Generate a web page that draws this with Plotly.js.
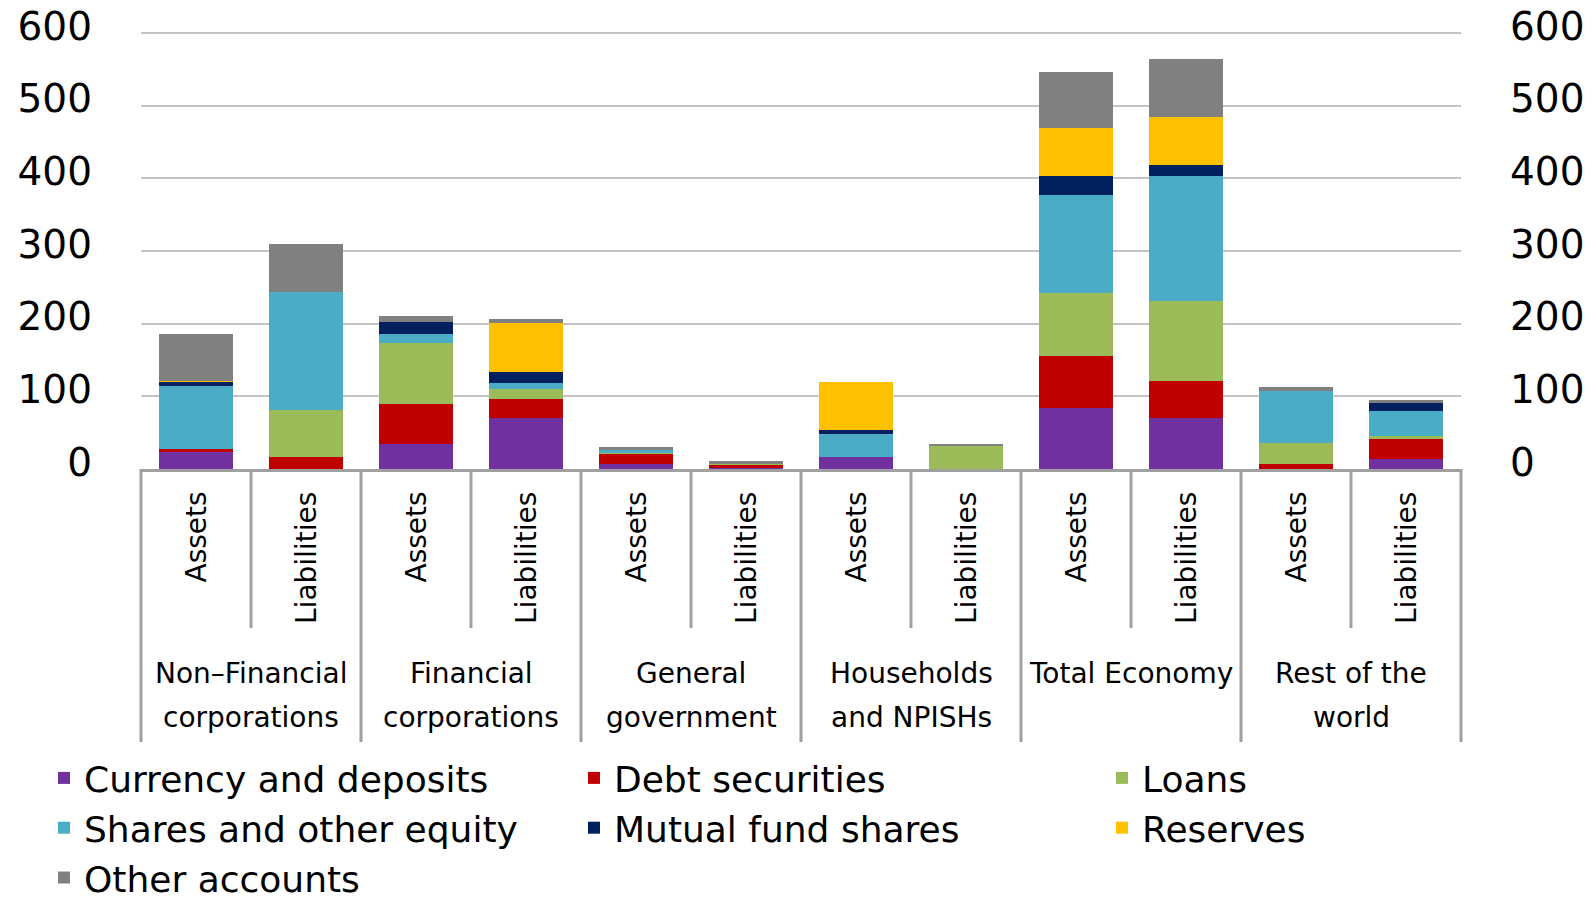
<!DOCTYPE html>
<html>
<head>
<meta charset="utf-8">
<script src="https://cdn.plot.ly/plotly-3.0.1.min.js"></script>
<style>
  html, body { margin: 0; padding: 0; background: #ffffff; }
  #chart { width: 1596px; height: 903px; }
</style>
</head>
<body>
<div id="chart"></div>
<script>
// ---- Data ----
const sectorLine1 = ["Non\u2013Financial", "Financial", "General", "Households", "Total Economy", "Rest of the"];
const sectorLine2 = ["corporations", "corporations", "government", "and NPISHs", "", "world"];
const sides = ["Assets", "Liabilities"];

// bar order: each sector -> Assets, Liabilities
const currencyDeposits = [24, 0, 35, 70, 7, 1, 16, 0, 84, 69.5, 0, 14];
const debtSecurities   = [3.5, 17, 54, 26, 13, 5, 0, 0, 71, 51, 7, 27.5];
const loans            = [0.5, 64, 85, 13.5, 2.7, 1.5, 0, 31.5, 87, 111, 29, 4.5];
const sharesEquity     = [86, 163, 12, 9.5, 3.2, 0, 32, 0, 135, 172, 71.5, 34];
const mutualFund       = [6, 0, 16, 15, 0, 0, 5, 0, 26, 14.7, 0, 10.5];
const reserves         = [0.5, 0, 0, 66.5, 0, 0, 66.5, 0, 66, 66.4, 0, 0];
const otherAccounts    = [65, 65, 8, 6.5, 3.7, 4, 0.5, 3.5, 77.6, 80, 6, 5];

const seriesNames = ["Currency and deposits", "Debt securities", "Loans",
                     "Shares and other equity", "Mutual fund shares", "Reserves", "Other accounts"];
const seriesValues = [currencyDeposits, debtSecurities, loans, sharesEquity, mutualFund, reserves, otherAccounts];
const seriesColors = ["#7030A0", "#C00000", "#9BBB59", "#4BACC6", "#002060", "#FFC000", "#808080"];

const yTicks = [0, 100, 200, 300, 400, 500, 600];

// ---- Build ----
const barLabels = [];
sectorLine1.forEach(() => sides.forEach(s => barLabels.push(s)));
const xIdx = barLabels.map((_, i) => i);
const nBars = barLabels.length;

// legend columns (3 columns, filled row by row)
const legendIds = ["legend", "legend2", "legend3"];

const traces = seriesNames.map((name, k) => ({
  type: "bar",
  name: name,
  legendgroup: name,
  x: xIdx,
  y: seriesValues[k],
  legend: legendIds[k % 3],
  marker: { color: seriesColors[k], line: { width: 0 } },
  hoverinfo: "name+y"
}));
// invisible helper so the right-hand axis is drawn
traces.push({
  type: "scatter", x: [xIdx[0]], y: [yTicks[0]], yaxis: "y2",
  mode: "markers", marker: { opacity: 0 }, showlegend: false, hoverinfo: "skip"
});

// layout geometry (pixels -> paper)
const W = 1596, H = 903;
const M = { l: 141, r: 135, t: 30, b: 434, autoexpand: false };
const plotW = W - M.l - M.r;
const plotH = H - M.t - M.b;
const y0px = H - M.b;
const py = p => (y0px - p) / plotH;
const px = p => (p - M.l) / plotW;

const FONT = "DejaVu Sans, Verdana, sans-serif";
const annotations = [];
barLabels.forEach((lab, i) => {
  annotations.push({
    x: i, xref: "x", y: py(490), yref: "paper",
    text: lab, showarrow: false, textangle: -90,
    xanchor: "center", yanchor: "top",
    font: { family: FONT, size: 28, color: "#000" }
  });
});
sectorLine1.forEach((t, g) => {
  const xc = g * 2 + 0.5;
  annotations.push({
    x: xc, xref: "x", y: py(673), yref: "paper",
    text: t, showarrow: false, xanchor: "center", yanchor: "middle",
    font: { family: FONT, size: 28, color: "#000" }
  });
  if (sectorLine2[g]) {
    annotations.push({
      x: xc, xref: "x", y: py(717), yref: "paper",
      text: sectorLine2[g], showarrow: false, xanchor: "center", yanchor: "middle",
      font: { family: FONT, size: 28, color: "#000" }
    });
  }
});

const shapes = [];
for (let k = 0; k <= nBars; k++) {
  const outer = (k % 2 === 0);
  shapes.push({
    type: "line", xref: "paper", yref: "paper",
    x0: k / nBars, x1: k / nBars, y0: 0, y1: outer ? py(742) : py(628),
    line: { color: "#a0a0a0", width: 3 }
  });
}

const legendBase = {
  orientation: "v", xanchor: "left", yanchor: "top",
  y: py(748),
  tracegroupgap: 0,
  font: { family: FONT, size: 36, color: "#000" },
  bgcolor: "rgba(0,0,0,0)", borderwidth: 0,
  traceorder: "normal", itemclick: false, itemdoubleclick: false
};
const legendColumnsPx = [44, 574, 1102];

const layout = {
  width: W, height: H,
  margin: M,
  paper_bgcolor: "#ffffff",
  plot_bgcolor: "#ffffff",
  barmode: "stack",
  bargap: 0.336,
  showlegend: true,
  font: { family: FONT, color: "#000" },
  xaxis: {
    range: [-0.5, nBars - 0.5],
    showticklabels: false, showgrid: false, zeroline: false,
    showline: true, linecolor: "#a0a0a0", linewidth: 3,
    ticks: "", fixedrange: true
  },
  yaxis: {
    range: [0, 604], tickvals: yTicks, ticktext: yTicks.map(String),
    showgrid: true, gridcolor: "#c4c4c4", gridwidth: 2,
    zeroline: false, showline: false, ticks: "",
    ticklabelstandoff: 48, ticklabelshift: -7,
    tickfont: { family: FONT, size: 39, color: "#000" }
  },
  yaxis2: {
    overlaying: "y", side: "right",
    range: [0, 604], tickvals: yTicks, ticktext: yTicks.map(String),
    showgrid: false, zeroline: false, showline: false, ticks: "",
    ticklabelstandoff: 48, ticklabelshift: -7,
    tickfont: { family: FONT, size: 39, color: "#000" }
  },
  legend:  Object.assign({}, legendBase, { x: px(legendColumnsPx[0]) }),
  legend2: Object.assign({}, legendBase, { x: px(legendColumnsPx[1]) }),
  legend3: Object.assign({}, legendBase, { x: px(legendColumnsPx[2]) }),
  annotations: annotations,
  shapes: shapes
};

Plotly.newPlot("chart", traces, layout, { displayModeBar: false, staticPlot: true });
</script>
</body>
</html>
